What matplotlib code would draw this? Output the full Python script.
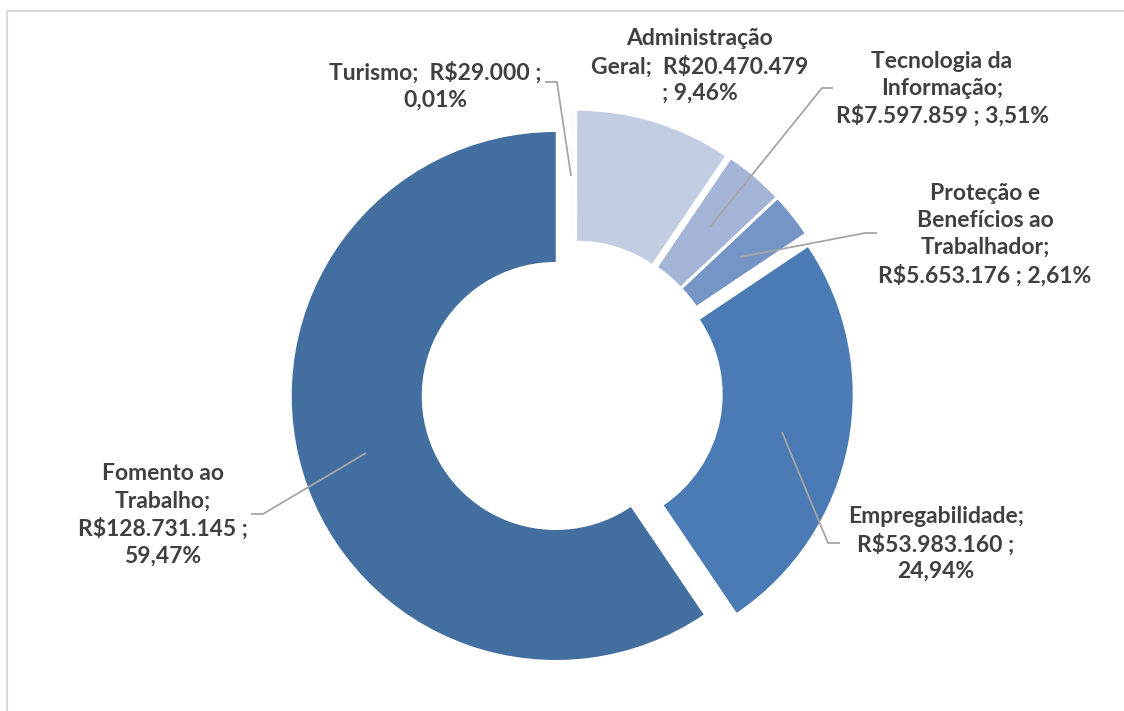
import matplotlib
matplotlib.use("Agg")
import matplotlib.pyplot as plt

categories = ["Turismo", "Administração Geral", "Tecnologia da Informação",
              "Proteção e Benefícios ao Trabalhador", "Empregabilidade",
              "Fomento ao Trabalho"]
values = [29000, 20470479, 7597859, 5653176, 53983160, 128731145]
percent_labels = ["0,01%", "9,46%", "3,51%", "2,61%", "24,94%", "59,47%"]
label_texts = [
    "Turismo;  R$29.000 ;\n0,01%",
    "Administração\nGeral;  R$20.470.479\n; 9,46%",
    "Tecnologia da\nInformação;\nR$7.597.859 ; 3,51%",
    "Proteção e\nBenefícios ao\nTrabalhador;\nR$5.653.176 ; 2,61%",
    "Empregabilidade;\nR$53.983.160 ;\n24,94%",
    "Fomento ao\nTrabalho;\nR$128.731.145 ;\n59,47%",
]
colors = ["#D5DCEC", "#C2CDE2", "#A3B4D6", "#7495C6", "#4A7BB4", "#426EA0"]

W, H = 1124, 711
fig = plt.figure(figsize=(W / 100, H / 100), dpi=100)
ax = fig.add_axes([0, 0, 1, 1])

cx, cy = 572, H - 391
R = 264
ax.pie(values, colors=colors, startangle=90, counterclock=False,
       center=(cx, cy), radius=R, explode=[17] * len(values),
       wedgeprops=dict(width=130, linewidth=0), frame=True)
ax.set_xlim(0, W)
ax.set_ylim(0, H)
ax.set_aspect("equal")
ax.axis("off")

# label positions (pixel coords, y from top)
label_pos = [(435, 86), (700, 66), (942, 89), (985, 235), (936, 544), (163, 515)]
leaders = [
    [(545, 82), (557, 82), (571, 176)],
    None,
    [(833, 88), (822, 88), (710, 227)],
    [(877, 233), (865, 233), (740, 257)],
    [(840, 543), (828, 543), (782, 432)],
    [(251, 514), (263, 514), (366, 453)],
]
for txt, (lx, ly), ld in zip(label_texts, label_pos, leaders):
    ax.text(lx, H - ly, txt, ha="center", va="center", fontsize=16.5,
            fontweight="bold", family=["Lato", "DejaVu Sans"], color="#404040",
            linespacing=1.34)
    if ld:
        xs = [p[0] for p in ld]
        ys = [H - p[1] for p in ld]
        ax.plot(xs, ys, color="#A6A6A6", lw=1.3, solid_capstyle="butt")

# chart-area border
ax.plot([7, 7, W], [0, H - 10.5, H - 10.5], color="#D9D9D9", lw=1.5)

fig.savefig("out.png", dpi=100)
